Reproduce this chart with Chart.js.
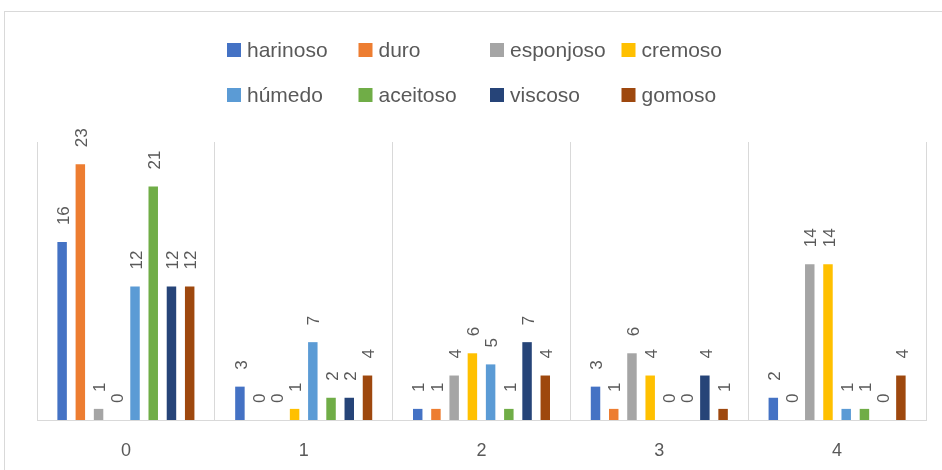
<!DOCTYPE html>
<html>
<head>
<meta charset="utf-8">
<script src="https://cdn.jsdelivr.net/npm/chart.js@4.4.0/dist/chart.umd.min.js"></script>
<style>
    html, body { margin: 0; padding: 0; background: #fff; }
    .frame { position: absolute; left: 4px; top: 11px; width: 960px; height: 480px; border: 1px solid #d9d9d9; }
    .wrap { position: absolute; left: 0; top: 0; width: 942px; height: 470px; }
</style>
</head>
<body>
<div class="frame"></div>
<div class="wrap"><canvas id="chart" width="942" height="470"></canvas></div>
<script>
const categories = ['0', '1', '2', '3', '4'];
const seriesNames = ['harinoso', 'duro', 'esponjoso', 'cremoso', 'húmedo', 'aceitoso', 'viscoso', 'gomoso'];
const seriesColors = ['#4472C4', '#ED7D31', '#A5A5A5', '#FFC000', '#5B9BD5', '#70AD47', '#264478', '#9E480E'];

const harinoso = [16, 3, 1, 3, 2];
const duro = [23, 0, 1, 1, 0];
const esponjoso = [1, 0, 4, 6, 14];
const cremoso = [0, 1, 6, 4, 14];
const humedo = [12, 7, 5, 0, 1];
const aceitoso = [21, 2, 1, 0, 1];
const viscoso = [12, 2, 7, 4, 0];
const gomoso = [12, 4, 4, 1, 4];

const seriesValues = [harinoso, duro, esponjoso, cremoso, humedo, aceitoso, viscoso, gomoso];

const FONT = '"Liberation Sans", Arial, sans-serif';
const TEXT = '#595959';

// rotated value labels above each bar
const barLabels = {
    id: 'barLabels',
    afterDatasetsDraw(chart) {
        const ctx = chart.ctx;
        ctx.save();
        ctx.fillStyle = TEXT;
        ctx.font = '17px ' + FONT;
        ctx.textAlign = 'left';
        ctx.textBaseline = 'middle';
        chart.data.datasets.forEach((ds, i) => {
            chart.getDatasetMeta(i).data.forEach((bar, j) => {
                ctx.save();
                ctx.translate(bar.x + 2, bar.y - 17);
                ctx.rotate(-Math.PI / 2);
                ctx.fillText(String(ds.data[j]), 0, 0);
                ctx.restore();
            });
        });
        ctx.restore();
    }
};

// legend in a 4 column grid, like the original
const gridLegend = {
    id: 'gridLegend',
    afterDraw(chart) {
        const ctx = chart.ctx;
        ctx.save();
        ctx.font = '21px ' + FONT;
        ctx.textBaseline = 'middle';
        ctx.textAlign = 'left';
        chart.data.datasets.forEach((ds, i) => {
            const col = i % 4;
            const row = Math.floor(i / 4);
            const x = 227 + col * 131.5;
            const y = 50 + row * 45;
            ctx.fillStyle = ds.backgroundColor;
            ctx.fillRect(x, y - 7, 14, 14);
            ctx.fillStyle = TEXT;
            ctx.fillText(ds.label, x + 20, y + 1);
        });
        ctx.restore();
    }
};

new Chart(document.getElementById('chart'), {
    type: 'bar',
    data: {
        labels: categories,
        datasets: seriesNames.map((name, i) => ({
            label: name,
            data: seriesValues[i],
            backgroundColor: seriesColors[i],
            borderWidth: 0,
            categoryPercentage: 0.82,
            barPercentage: 0.52
        }))
    },
    options: {
        responsive: false,
        animation: false,
        layout: { padding: { left: 37, right: 16, top: 142, bottom: 0 } },
        plugins: {
            legend: { display: false },
            tooltip: { enabled: false }
        },
        scales: {
            x: {
                grid: { offset: true, drawTicks: false, color: '#d9d9d9', lineWidth: 1 },
                border: { color: '#d9d9d9', width: 1 },
                ticks: { color: TEXT, font: { family: FONT, size: 18 }, padding: 20 },
                afterFit(scale) { scale.height = 50; }
            },
            y: {
                display: false,
                min: 0,
                max: 25
            }
        }
    },
    plugins: [barLabels, gridLegend]
});
</script>
</body>
</html>
